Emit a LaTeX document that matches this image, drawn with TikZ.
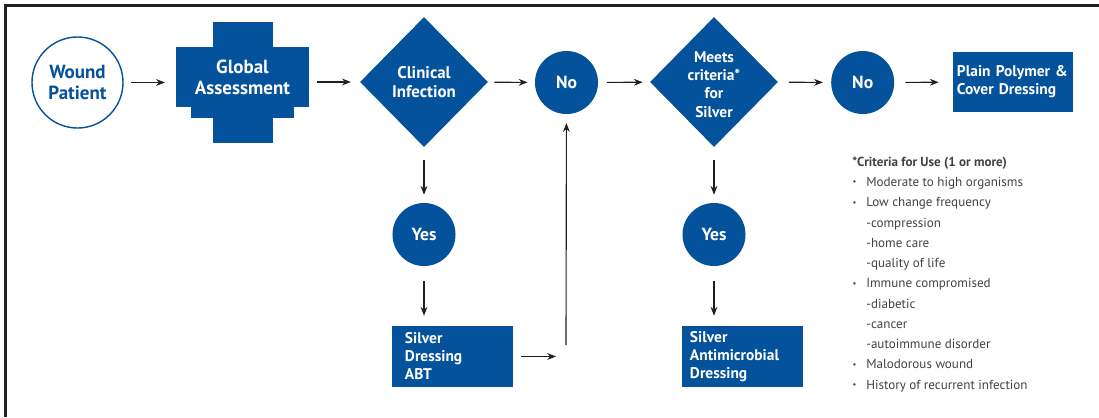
\documentclass[tikz,border=0pt]{standalone}
\usepackage{fontspec}
\setmainfont{PT Sans}
\usetikzlibrary{arrows.meta,positioning,shapes.geometric}
\definecolor{wdblue}{RGB}{4,82,155}
\definecolor{wdgray}{RGB}{35,31,32}
\newcommand{\crbul}{\makebox[0.35cm][l]{\hspace{0.01cm}\raisebox{0.25ex}{\fontsize{6}{6}\selectfont\textbullet}}}
\newcommand{\crsub}{\hspace{0.35cm}}
\tikzset{
  wdcircle/.style={circle, fill=wdblue, text=white, minimum size=1.575cm, inner sep=0pt,
    font=\fontsize{12.5}{14}\selectfont\bfseries},
  wddiamond/.style={diamond, fill=wdblue, minimum width=3.2cm, minimum height=3.25cm, inner sep=0pt},
  wdlabel/.style={text=white, align=center, inner sep=0pt, font=\fontsize{12}{13.2}\selectfont\bfseries},
  wdbox/.style={fill=wdblue, text=white, align=left, minimum height=1.525cm,
    font=\fontsize{11}{12.8}\selectfont\bfseries},
  wdarrow/.style={-{Stealth[length=2.2mm,width=1.7mm]}, line width=0.8pt, draw=wdgray,
    shorten <=0.2cm, shorten >=0.22cm}
}

\begin{document}
\begin{tikzpicture}[x=0.025cm, y=-0.025cm]
  \useasboundingbox (0,0) rectangle (1099,417);
  % frame
  \draw[wdgray, line width=1.8pt] (5.5,417) -- (5.5,5.5) -- (1099,5.5);

  % top row
  \node[circle, draw=wdblue, line width=1pt, fill=white, text=wdblue, minimum size=2.275cm,
    inner sep=0pt, align=center, font=\fontsize{13.5}{14.5}\selectfont\bfseries] (wp) at (77.5,82.5) {Wound\\Patient};
  \fill[wdblue] (213,22) rectangle (273,143);
  \fill[wdblue] (191,100) rectangle (294,118);
  \node[fill=wdblue, text=white, minimum width=3.325cm, minimum height=1.5cm, align=center,
    font=\fontsize{13.5}{15}\selectfont\bfseries] (ga) at (242.5,77) {Global\\Assessment};
  \node[wddiamond, label={[wdlabel]center:Clinical\\Infection}] (ci) at (424,82) {};
  \node[wdcircle] (no1) at (566.5,82.5) {No};
  \node[wddiamond, label={[wdlabel, font=\fontsize{11}{13}\selectfont\bfseries, yshift=-0.06cm]center:Meets\\criteria*\\for\\Silver}] (mc) at (714,82) {};
  \node[wdcircle] (no2) at (862.7,82.5) {No};
  \node[wdbox, minimum height=1.5cm, text width=2.8cm, inner xsep=0.1cm] (pp) at (1013,82) {Plain Polymer \&\\Cover Dressing};

  % lower rows
  \node[wdcircle] (yes1) at (424,234.5) {Yes};
  \node[wdbox, text width=2.375cm, inner xsep=0.325cm] (abt) at (452.5,356.5) {Silver\\Dressing\\ABT};
  \node[wdcircle] (yes2) at (714,234.5) {Yes};
  \node[wdbox, text width=2.625cm, inner xsep=0.2cm] (sam) at (742.5,356.5) {Silver\\Antimicrobial\\Dressing};
  \coordinate (abtend) at (556,356.5);
  \coordinate (upstart) at (566,345);

  % criteria list
  \node[anchor=north west, inner sep=0pt, align=left, text=wdgray!85, font=\fontsize{9.3}{14.4}\selectfont] (crit) at (852,156.5) {%
    \textbf{*Criteria for Use (1 or more)}\\
    \crbul Moderate to high organisms\\
    \crbul Low change frequency\\
    \crsub -compression\\
    \crsub -home care\\
    \crsub -quality of life\\
    \crbul Immune compromised\\
    \crsub -diabetic\\
    \crsub -cancer\\
    \crsub -autoimmune disorder\\
    \crbul Malodorous wound\\
    \crbul History of recurrent infection};

  % connectors
  \draw[wdarrow, shorten <=0.18cm, shorten >=0.27cm] (wp) -- (wp -| ga.west);
  \draw[wdarrow] (ga.east |- ci) -- (ci);
  \draw[wdarrow, shorten <=0.16cm, shorten >=0.18cm] (ci) -- (no1);
  \draw[wdarrow, shorten <=0.22cm, shorten >=0.18cm] (no1) -- (mc);
  \draw[wdarrow, shorten <=0.27cm, shorten >=0.2cm] (mc) -- (no2);
  \draw[wdarrow, shorten <=0.27cm, shorten >=0.35cm] (no2) -- (pp);
  \draw[wdarrow, shorten <=0.32cm, shorten >=0.2cm] (ci) -- (yes1);
  \draw[wdarrow, shorten <=0.37cm, shorten >=0.25cm] (yes1) -- (yes1 |- abt.north);
  \draw[wdarrow, shorten <=0.32cm, shorten >=0.2cm] (mc) -- (yes2);
  \draw[wdarrow, shorten <=0.37cm, shorten >=0.25cm] (yes2) -- (yes2 |- sam.north);
  \draw[wdarrow, shorten >=0pt] (abt) -- (abtend);
  \draw[wdarrow, shorten <=0pt] (upstart) -- (no1);
\end{tikzpicture}
\end{document}
